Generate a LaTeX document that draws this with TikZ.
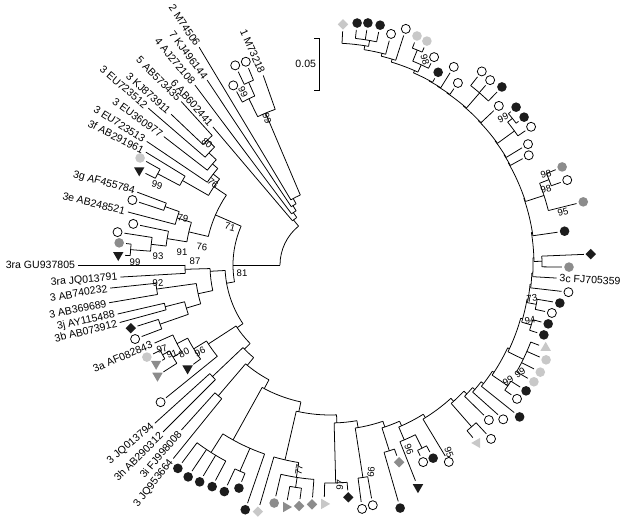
\documentclass[tikz,border=0pt]{standalone}
\usepackage{fontspec}
\setmainfont{Liberation Sans}
\usetikzlibrary{shapes.geometric}
\definecolor{mkblack}{RGB}{28,28,28}
\definecolor{mkgray}{RGB}{140,140,140}
\definecolor{mklight}{RGB}{200,200,200}
\newcounter{lv}
% arc of an inner node, radial line, leaf with marker, leaf with name
\newcommand{\barc}[3]{\draw[br] (#1:#3) arc[start angle=#1, end angle=#2, radius={#3*0.025cm}];}
\newcommand{\bline}[3]{\draw[br] (#1:#2) -- (#1:#3);}
\newcommand{\mleaf}[4]{\stepcounter{lv}\draw[br] (#1:#2) -- (#1:{#3-7});
  \node[#4] (lv\thelv) at (#1:#3) {};}
\newcommand{\tleaf}[5]{\stepcounter{lv}\draw[br] (#1:#2) -- (#1:#3);
  \node[lbl, rotate=#4, anchor=east] (lv\thelv) at (#1:{#3+2}) {#5};}
\newcommand{\rleaf}[5]{\stepcounter{lv}\draw[br] (#1:#2) -- (#1:#3);
  \node[lbl, rotate=#4, anchor=west] (lv\thelv) at (#1:{#3+2}) {#5};}
\tikzset{
  br/.style={line width=0.55pt},
  mk/.style={inner sep=0pt, outer sep=0pt},
  wc/.style={mk, circle, minimum size=0.225cm, draw, line width=0.55pt, fill=white},
  bc/.style={mk, circle, minimum size=0.24cm, fill=mkblack},
  gc/.style={mk, circle, minimum size=0.24cm, fill=mkgray},
  lc/.style={mk, circle, minimum size=0.24cm, fill=mklight},
  dm/.style={mk, diamond, minimum width=0.26cm, minimum height=0.26cm},
  bd/.style={dm, fill=mkblack},
  gd/.style={dm, fill=mkgray},
  ld/.style={dm, fill=mklight},
  tri/.style={mk, regular polygon, regular polygon sides=3, minimum size=0.3cm},
  btd/.style={tri, fill=mkblack, shape border rotate=180},
  gtd/.style={tri, fill=mkgray, shape border rotate=180},
  gtr/.style={tri, fill=mkgray, shape border rotate=-90},
  ltr/.style={tri, fill=mklight, shape border rotate=-90},
  ltl/.style={tri, fill=mklight, shape border rotate=90},
  ltu/.style={tri, fill=mklight},
  lbl/.style={inner sep=0.5pt, font=\fontsize{7.5}{9}\selectfont},
  bs/.style={inner sep=0pt, font=\fontsize{6.8}{8}\selectfont},
}
\begin{document}
\begin{tikzpicture}[x=0.025cm, y=0.025cm]
\useasboundingbox (0,0) rectangle (623,519);
\begin{scope}[shift={(330,254)}]
% root
\barc{129}{180}{50}
\bline{180}{50}{97}
\bline{129}{50}{58}
% genotypes 1, 2, 4, 6, 7
\barc{130.3}{125}{58}
\tleaf{130.3}{58}{181}{-49}{6 AB602441}
\bline{125}{58}{64}
\barc{126.9}{122}{64}
\tleaf{126.9}{64}{225}{-50}{4 AJ272108}
\bline{122}{64}{70}
\barc{123.6}{119}{70}
\tleaf{123.6}{70}{222}{-53}{7 KJ496144}
\bline{119}{70}{76}
\barc{121}{113}{76}
\tleaf{121}{76}{254}{-56}{2 M74506}
\bline{113}{76}{165}
\barc{109.4}{116}{165}
\tleaf{109.4}{165}{201}{-66}{1 M73218}
\bline{116}{165}{185}
\barc{114}{118.3}{185}
\mleaf{118.3}{185}{204}{wc}
\bline{114}{185}{200}
\barc{112.5}{115.4}{200}
\mleaf{112.5}{200}{220}{wc}
\mleaf{115.4}{200}{221}{wc}
% genotype 3, upper part
\barc{156.4}{190}{97}
\bline{156.4}{97}{125}
\barc{146}{166.8}{125}
\bline{146}{125}{140}
\barc{142.1}{150.2}{140}
\bline{142.1}{140}{148}
\barc{139.3}{146}{148}
\tleaf{146}{148}{221}{-32.5}{3 EU723513}
\bline{139.3}{148}{155}
\barc{137.2}{142.3}{155}
\tleaf{142.3}{155}{210}{-35.5}{3 EU360977}
\bline{137.2}{155}{165}
\barc{134.4}{139.2}{165}
\tleaf{139.2}{165}{240}{-40.5}{3 EU723512}
\bline{134.4}{165}{175}
\barc{132.3}{136.5}{175}
\tleaf{132.3}{175}{221}{-45}{5 AB573435}
\tleaf{136.5}{175}{219}{-42}{3 KJ873911}
\bline{150.2}{140}{170}
\barc{148.5}{152.1}{170}
\tleaf{148.5}{170}{216}{-27}{3f AB291961}
\bline{152.1}{170}{195}
\barc{150.6}{153.6}{195}
\mleaf{150.6}{195}{218}{lc}
\mleaf{153.6}{195}{213}{btd}
\bline{166.8}{125}{145}
\barc{162.9}{170.8}{145}
\bline{162.9}{145}{160}
\barc{160.5}{165.3}{160}
\tleaf{165.3}{160}{209}{-13.8}{3e AB248521}
\bline{160.5}{160}{175}
\barc{159.3}{161.8}{175}
\tleaf{159.3}{175}{206}{-15}{3g AF455784}
\mleaf{161.8}{175}{208}{wc}
\bline{170.8}{145}{165}
\barc{168.2}{173.4}{165}
\mleaf{168.2}{165}{201}{wc}
\bline{173.4}{165}{180}
\barc{171.2}{175.6}{180}
\mleaf{171.2}{180}{215}{wc}
\bline{175.6}{180}{200}
\barc{174}{177.3}{200}
\mleaf{174}{200}{212}{gc}
\mleaf{177.3}{200}{212}{btd}
% genotype 3, lower part
\bline{190}{97}{105}
\barc{183}{214}{105}
\bline{183}{105}{120}
\barc{181.7}{192.3}{120}
\bline{181.7}{120}{145}
\barc{180}{183.3}{145}
\tleaf{180}{145}{252}{0}{3ra GU937805}
\tleaf{183.3}{145}{210}{5}{3ra JQ013791}
\bline{192.3}{120}{135}
\barc{187.9}{196.7}{135}
\bline{187.9}{135}{175}
\barc{186}{189.7}{175}
\tleaf{186}{175}{221}{9.5}{3 AB740232}
\tleaf{189.7}{175}{224}{11.6}{3 AB369689}
\bline{196.7}{135}{150}
\barc{194.2}{199.2}{150}
\bline{194.2}{150}{170}
\barc{193}{195.3}{170}
\tleaf{193}{170}{218}{12.4}{3j AY115488}
\tleaf{195.3}{170}{218}{14}{3b AB073912}
\bline{199.2}{150}{180}
\barc{197.6}{200.8}{180}
\mleaf{197.6}{180}{209}{bd}
\mleaf{200.8}{180}{208.5}{wc}
\bline{214}{105}{112}
\barc{213}{224.5}{112}
\bline{213}{112}{145}
\barc{211.6}{219}{145}
\bline{211.6}{145}{160}
\barc{207.2}{216}{160}
\bline{207.2}{160}{172}
\barc{204}{210.4}{172}
\tleaf{204}{172}{192}{23}{3a AF082843}
\bline{210.4}{172}{182}
\barc{208.2}{212.7}{182}
\bline{208.2}{182}{190}
\barc{206.7}{209.6}{190}
\mleaf{206.7}{190}{205}{lc}
\mleaf{209.6}{190}{200}{gtd}
\mleaf{212.7}{182}{205}{gtd}
\mleaf{216}{160}{176}{btd}
\mleaf{219}{145}{218}{wc}
\bline{224.5}{112}{120}
\barc{223.5}{230.5}{120}
\bline{223.5}{120}{162}
\barc{222.1}{225}{162}
\tleaf{222.1}{162}{236}{40}{3 JQ013794}
\tleaf{225}{162}{236}{45}{3h AB290312}
\bline{230.5}{120}{130}
\barc{229.5}{242}{130}
\bline{229.5}{130}{172}
\barc{228}{231}{172}
\tleaf{228}{172}{222}{49.5}{3i FJ998008}
\tleaf{231}{172}{249}{52}{3 JQ953664}
% bottom
\bline{242}{130}{140}
\barc{241}{258}{140}
\bline{241}{140}{200}
\barc{237.6}{250.9}{200}
\bline{237.6}{200}{222}
\barc{233.2}{242}{222}
\mleaf{233.2}{222}{254}{bc}
\mleaf{236.2}{222}{255}{bc}
\mleaf{239}{222}{253}{bc}
\mleaf{242}{222}{251}{bc}
\bline{246.4}{200}{225}
\barc{245}{247.8}{225}
\mleaf{245}{225}{250}{bc}
\mleaf{247.8}{225}{241}{bc}
\mleaf{250.9}{200}{259}{bc}
\bline{258}{140}{150}
\barc{257}{272.5}{150}
\bline{257}{150}{200}
\barc{253.7}{261}{200}
\mleaf{253.7}{200}{257}{ld}
\bline{261}{200}{215}
\barc{256.8}{265.7}{215}
\mleaf{256.8}{215}{244.5}{gc}
\bline{261.2}{215}{225}
\barc{259.7}{262.7}{225}
\mleaf{259.7}{225}{246}{gtr}
\mleaf{262.7}{225}{243}{gd}
\mleaf{265.7}{215}{240}{gd}
\bline{272.5}{150}{158}
\barc{271.5}{279.8}{158}
\bline{271.5}{158}{218}
\barc{268.6}{274.5}{218}
\mleaf{268.6}{218}{239}{ltr}
\mleaf{274.5}{218}{233}{bd}
\bline{279.8}{158}{165}
\barc{278.8}{288.7}{165}
\bline{278.8}{165}{215}
\barc{277.5}{280.1}{215}
\mleaf{277.5}{215}{246}{wc}
\mleaf{280.1}{215}{244}{wc}
\bline{288.7}{165}{171}
\barc{287.7}{294}{171}
\bline{287.7}{171}{195}
\barc{286.1}{289.3}{195}
\mleaf{286.1}{195}{253}{bc}
\mleaf{289.3}{195}{209}{gd}
\bline{294}{171}{176}
\barc{293}{302}{176}
\bline{293}{176}{190}
\barc{291.6}{296.7}{190}
\mleaf{291.6}{190}{239}{btd}
\bline{296.7}{190}{205}
\barc{295.3}{298.1}{205}
\mleaf{295.3}{205}{218}{wc}
\mleaf{298.1}{205}{219}{bc}
% right side
\bline{302}{176}{180}
\barc{301.1}{312.2}{180}
\mleaf{301.1}{180}{230}{wc}
\bline{312.2}{180}{184}
\barc{311.2}{316.7}{184}
\bline{311.2}{184}{215}
\barc{309.6}{312.8}{215}
\mleaf{309.6}{215}{231}{ltl}
\mleaf{312.8}{215}{237}{wc}
\bline{316.7}{184}{188}
\barc{315.7}{319.3}{188}
\mleaf{315.7}{188}{222}{wc}
\bline{319.3}{188}{191}
\barc{318.3}{322.3}{191}
\mleaf{318.3}{191}{232}{wc}
\bline{322.3}{191}{194}
\barc{321.3}{326.8}{194}
\mleaf{321.3}{194}{243}{bc}
\bline{326.8}{194}{196}
\barc{325.8}{335}{196}
\bline{325.8}{196}{215}
\barc{324.4}{327.3}{215}
\mleaf{324.4}{215}{230}{wc}
\mleaf{327.3}{215}{233}{bc}
\bline{335}{196}{198}
\barc{334}{344.4}{198}
\bline{334}{198}{215}
\barc{330.2}{339}{215}
\mleaf{330.2}{215}{235}{lc}
\mleaf{333}{215}{236}{lc}
\mleaf{336.3}{215}{236}{lc}
\mleaf{339}{215}{231}{ltu}
\bline{344.4}{198}{200}
\barc{343.4}{350.2}{200}
\bline{343.4}{200}{210}
\barc{341.9}{344.9}{210}
\mleaf{341.9}{210}{225}{bc}
\mleaf{344.9}{210}{226}{bc}
\bline{350.2}{200}{201}
\barc{349.2}{354.5}{201}
\bline{349.2}{201}{210}
\barc{347.8}{350.6}{210}
\mleaf{347.8}{210}{227}{wc}
\mleaf{350.6}{210}{233}{bc}
\bline{354.5}{201}{202}
\barc{353.5}{357.7}{202}
\mleaf{353.5}{202}{240}{wc}
\bline{357.7}{202}{203}
\barc{356.7}{362}{203}
\rleaf{356.7}{203}{227}{-3}{3c FJ705359}
\bline{362}{203}{204}
\barc{361}{369.2}{204}
\bline{361}{204}{212}
\barc{359.5}{362.4}{212}
\mleaf{359.5}{212}{239}{gc}
\mleaf{362.4}{212}{261}{bd}
\bline{369.2}{204}{205}
\barc{368.2}{379}{205}
\mleaf{368.2}{205}{237}{bc}
\bline{379}{205}{205.5}
\barc{378}{389.9}{205.5}
\bline{378}{205.5}{225}
\barc{374}{381.3}{225}
\mleaf{374}{225}{261}{gc}
\bline{381.3}{225}{235}
\barc{379.7}{382.9}{235}
\mleaf{379.7}{235}{252}{wc}
\mleaf{382.9}{235}{252}{gc}
% top
\barc{388.9}{392.4}{206}
\mleaf{388.9}{206}{227}{wc}
\barc{391.4}{397}{206.5}
\mleaf{391.4}{206.5}{232}{wc}
\barc{396}{404.3}{207}
\bline{396}{207}{228}
\barc{394.5}{398.8}{228}
\mleaf{394.5}{228}{244}{wc}
\bline{398.8}{228}{234}
\barc{397.3}{400.3}{234}
\mleaf{397.3}{234}{244}{bc}
\mleaf{400.3}{234}{244}{bc}
\barc{403.3}{410}{207.5}
\mleaf{403.3}{207.5}{232}{wc}
\barc{409}{415.9}{208}
\bline{409}{208}{228}
\barc{406}{411.9}{228}
\mleaf{406}{228}{247.5}{bc}
\mleaf{409.1}{228}{244.6}{wc}
\mleaf{411.9}{228}{246}{wc}
\barc{414.9}{419}{208.5}
\mleaf{414.9}{208.5}{222.5}{wc}
\barc{418}{421.7}{209}
\mleaf{418}{209}{233.6}{wc}
\barc{420.7}{426.5}{209.5}
\mleaf{420.7}{209.5}{221}{bc}
\bline{426.5}{209.5}{212}
\barc{425.5}{433.2}{212}
\bline{425.5}{212}{220}
\barc{423.4}{427.9}{220}
\mleaf{423.4}{220}{232.5}{wc}
\bline{427.9}{220}{232}
\barc{426.6}{429.2}{232}
\mleaf{426.6}{232}{244}{lc}
\mleaf{429.2}{232}{245}{lc}
\bline{433.2}{212}{215}
\barc{432.2}{436.2}{215}
\mleaf{432.2}{215}{248}{wc}
\bline{436.2}{215}{218}
\barc{435.2}{441}{218}
\mleaf{435.2}{218}{239}{wc}
\bline{441}{218}{222}
\barc{440}{446.9}{222}
\bline{440}{222}{228}
\barc{438.2}{443.6}{228}
\mleaf{438.2}{228}{245}{bc}
\mleaf{441.1}{228}{245}{bc}
\mleaf{443.6}{228}{243.5}{bc}
\mleaf{446.9}{222}{241}{ld}
\end{scope}
% bootstrap values
\node[bs, rotate=-65] (b1) at (243,427) {99};
\node[bs, rotate=-70] (b2) at (267,401) {99};
\node[bs, rotate=-40] (b3) at (207,376) {80};
\node[bs, rotate=-40] (b4) at (213,336) {76};
\node[bs, rotate=-15] (b5) at (157,334) {99};
\node[bs, rotate=-10] (b6) at (183,301) {79};
\node[bs, rotate=-15] (b7) at (230,292) {71};
\node[bs, rotate=-5] (b8) at (202,272) {76};
\node[bs] (b9) at (182,267) {91};
\node[bs] (b10) at (158,263) {93};
\node[bs] (b11) at (135,257) {99};
\node[bs] (b12) at (195,258) {87};
\node[bs] (b13) at (242,246) {81};
\node[bs, rotate=5] (b14) at (158,236) {92};
\node[bs, rotate=20] (b15) at (162,170) {97};
\node[bs, rotate=20] (b16) at (172,165) {91};
\node[bs, rotate=25] (b17) at (184,166) {80};
\node[bs, rotate=25] (b18) at (200,167) {96};
\node[bs, rotate=80] (b19) at (299,49) {77};
\node[bs, rotate=85] (b20) at (340,34) {97};
\node[bs, rotate=85] (b21) at (371,47) {66};
\node[bs, rotate=-70] (b22) at (409,70) {96};
\node[bs, rotate=-70] (b23) at (449,67) {95};
\node[bs, rotate=30] (b24) at (508,138) {99};
\node[bs, rotate=30] (b25) at (520,146) {99};
\node[bs, rotate=10] (b26) at (530,199) {94};
\node[bs, rotate=10] (b27) at (532,221) {73};
\node[bs, rotate=15] (b28) at (563,307) {95};
\node[bs, rotate=15] (b29) at (546,330) {98};
\node[bs, rotate=15] (b30) at (546,345) {98};
\node[bs, rotate=25] (b31) at (503,401) {99};
\node[bs, rotate=-75] (b32) at (425,459) {98};
% scale bar
\draw[br] (314,481) -- (319,481) -- (319,429) -- (314,429);
\node[lbl, anchor=east] (sbar) at (317,455) {0.05};
\end{tikzpicture}
\end{document}
